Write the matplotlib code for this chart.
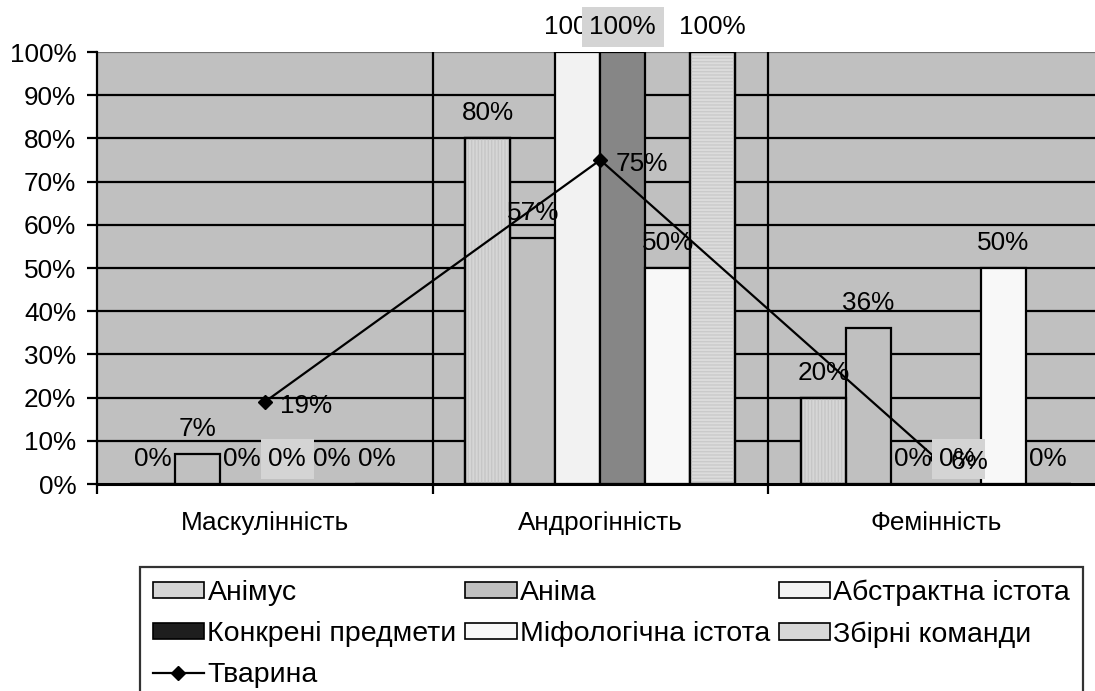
import matplotlib
matplotlib.use("Agg")
import matplotlib.pyplot as plt
from matplotlib.patches import Patch
from matplotlib.lines import Line2D
import numpy as np

plt.rcParams['font.family'] = ['Liberation Sans', 'DejaVu Sans']

categories = ['Маскулінність', 'Андрогінність', 'Фемінність']
series_names = ['Анімус', 'Аніма', 'Абстрактна істота', 'Конкрені предмети',
                'Міфологічна істота', 'Збірні команди']
animus = [0.00, 0.80, 0.20]
anima = [0.07, 0.57, 0.36]
abstract = [0.00, 1.00, 0.00]
concrete = [0.00, 1.00, 0.00]
myth = [0.00, 0.50, 0.50]
teams = [0.00, 1.00, 0.00]
animal = [0.19, 0.75, 0.06]
animal_name = 'Тварина'
yticks = [0, .1, .2, .3, .4, .5, .6, .7, .8, .9, 1.0]
yticklabels = ['0%', '10%', '20%', '30%', '40%', '50%', '60%', '70%', '80%', '90%', '100%']

series = [animus, anima, abstract, concrete, myth, teams]
colors = ['#D6D6D6', '#C0C0C0', '#F2F2F2', '#868686', '#F8F8F8', '#DCDCDC']
hatches = ['|||||', None, None, None, None, '-----']
hatch_colors = ['#C6C6C6', None, None, None, None, '#CACACA']
legend_colors = ['#D6D6D6', '#C0C0C0', '#F2F2F2', '#1E1E1E', '#F8F8F8', '#D8D8D8']

FS = 18.8
LFS = 20.5
fig = plt.figure(figsize=(10.95, 6.91), dpi=100)
ax = fig.add_axes([97/1095, 207/691, 1006.5/1095, 432/691])
ax.set_facecolor('#C0C0C0')
ax.set_xlim(-0.5, 2.5)
ax.set_ylim(0, 1)

# gridlines
for t in yticks[1:]:
    ax.axhline(t, color='black' if t < 1 else '#707070', lw=1.6, zorder=1)
for xb in [0.5, 1.5]:
    ax.axvline(xb, color='black', lw=1.6, zorder=1)

x = np.arange(len(categories))
w = 0.134
plt.rcParams['hatch.linewidth'] = 1.0
for k, vals in enumerate(series):
    pos = x + (k - 2.5) * w
    ax.bar(pos, vals, width=w, color=colors[k], edgecolor='black', lw=1.6, zorder=2)
    if hatches[k]:
        ax.bar(pos, vals, width=w, facecolor='none', edgecolor=hatch_colors[k],
               lw=0, hatch=hatches[k], zorder=2.5)
        ax.bar(pos, vals, width=w, facecolor='none', edgecolor='black', lw=1.6, zorder=2.6)
    for xi, v in zip(pos, vals):
        kw = {}
        if k == 3:
            kw['bbox'] = dict(boxstyle='square,pad=0.3', facecolor='#D4D4D4', edgecolor='none')
        ax.annotate(f'{round(v*100):d}%', (xi, v), xytext=(0, 18), textcoords='offset points',
                    ha='center', va='center', fontsize=FS, zorder=6, annotation_clip=False, **kw)

ax.plot(x, animal, color='black', lw=1.6, marker='D', markersize=7, zorder=5, clip_on=False)
for xi, v in zip(x, animal):
    ax.annotate(f'{round(v*100):d}%', (xi, v), xytext=(11, -3), textcoords='offset points',
                ha='left', va='center', fontsize=FS, zorder=7, annotation_clip=False)

ax.set_yticks(yticks)
ax.set_yticklabels(yticklabels, fontsize=FS)
ax.tick_params(axis='y', length=7, width=1.6, direction='out', pad=8)
ax.set_xticks([-0.5, 0.5, 1.5, 2.5])
ax.set_xticklabels([])
ax.tick_params(axis='x', length=7, width=1.6, direction='out')
for xi, c in zip(x, categories):
    ax.text(xi, -0.09, c, ha='center', va='center', fontsize=FS, transform=ax.transData)

for s in ['top', 'right']:
    ax.spines[s].set_visible(False)
ax.spines['left'].set_linewidth(1.6)
ax.spines['bottom'].set_linewidth(2.2)

handles = [Patch(facecolor=legend_colors[i], edgecolor='black', lw=1.2) for i in range(6)]
line_h = Line2D([], [], color='black', lw=1.6, marker='D', markersize=7)
order_h = [handles[0], handles[3], line_h, handles[1], handles[4], handles[2], handles[5]]
order_l = [series_names[0], series_names[3], animal_name, series_names[1], series_names[4],
           series_names[2], series_names[5]]
leg = fig.legend(order_h, order_l, ncol=3, loc='upper left',
                 bbox_to_anchor=(140/1095, 1 - 567/691), fontsize=LFS, frameon=True,
                 fancybox=False, edgecolor='black', handlelength=1.8, handleheight=0.5,
                 handletextpad=0.12, columnspacing=0.3, labelspacing=0.52,
                 borderaxespad=0, borderpad=0.45)
leg.get_frame().set_linewidth(1.6)

fig.savefig('out.png', dpi=100)
